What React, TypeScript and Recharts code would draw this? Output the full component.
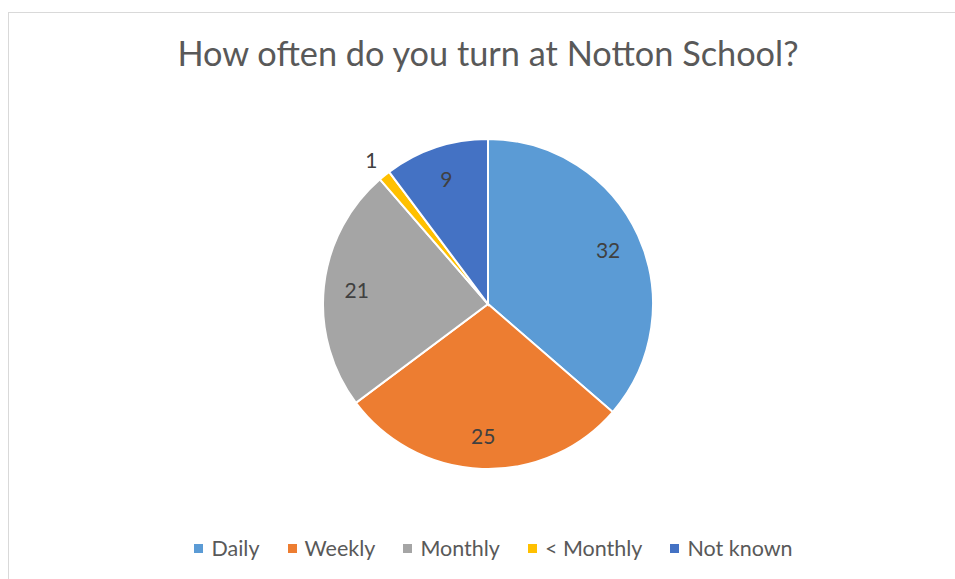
import React from 'react';
import { PieChart, Pie, Cell, Legend } from 'recharts';

const categories = ['Daily', 'Weekly', 'Monthly', '< Monthly', 'Not known'];
const counts = [32, 25, 21, 1, 9];
const colors = ['#5B9BD5', '#ED7D31', '#A5A5A5', '#FFC000', '#4472C4'];
const title = 'How often do you turn at Notton School?';

const data = categories.map((name, i) => ({ name, value: counts[i] }));

const FONT = 'Lato, "Open Sans", sans-serif';
const RADIAN = Math.PI / 180;

const renderLabel = (props: any) => {
  const { cx, cy, midAngle, outerRadius, value } = props;
  const r = value < 3 ? outerRadius + 21 : outerRadius * 0.8;
  const x = cx + r * Math.cos(-midAngle * RADIAN);
  const y = cy + r * Math.sin(-midAngle * RADIAN);
  return (
    <text
      x={x}
      y={y}
      fill="#404040"
      textAnchor="middle"
      dominantBaseline="central"
      fontFamily={FONT}
      fontSize={21}
    >
      {value}
    </text>
  );
};

const renderLegend = () => (
  <div
    style={{
      display: 'flex',
      justifyContent: 'center',
      alignItems: 'center',
      gap: 28,
      fontFamily: FONT,
      fontSize: 21.5,
      color: '#595959',
      lineHeight: '24px',
    }}
  >
    {categories.map((c, i) => (
      <div key={c} style={{ display: 'flex', alignItems: 'center' }}>
        <span
          style={{
            display: 'inline-block',
            width: 9,
            height: 9,
            background: colors[i],
            marginRight: 8,
          }}
        />
        <span>{c}</span>
      </div>
    ))}
  </div>
);

export default function App() {
  return (
    <div
      style={{
        position: 'fixed',
        left: 8,
        top: 12,
        width: 947,
        height: 567,
        overflow: 'hidden',
        borderLeft: '1px solid #d9d9d9',
        borderTop: '1px solid #d9d9d9',
        background: '#fff',
      }}
    >
      <div
        style={{
          position: 'absolute',
          left: 0,
          top: 18,
          width: 958,
          textAlign: 'center',
          fontFamily: FONT,
          fontSize: 34.3,
          color: '#595959',
          lineHeight: '44px',
          whiteSpace: 'nowrap',
        }}
      >
        {title}
      </div>
      <PieChart width={946} height={566}>
        <Pie
          data={data}
          dataKey="value"
          nameKey="name"
          cx={474}
          cy={286}
          outerRadius={165}
          startAngle={90}
          endAngle={-270}
          stroke="#ffffff"
          strokeWidth={2}
          label={renderLabel}
          labelLine={false}
          isAnimationActive={false}
        >
          {data.map((d, i) => (
            <Cell key={d.name} fill={colors[i]} />
          ))}
        </Pie>
        <Legend
          content={renderLegend}
          wrapperStyle={{ position: 'absolute', left: 0, top: 523, width: 969, height: 24 }}
        />
      </PieChart>
    </div>
  );
}
